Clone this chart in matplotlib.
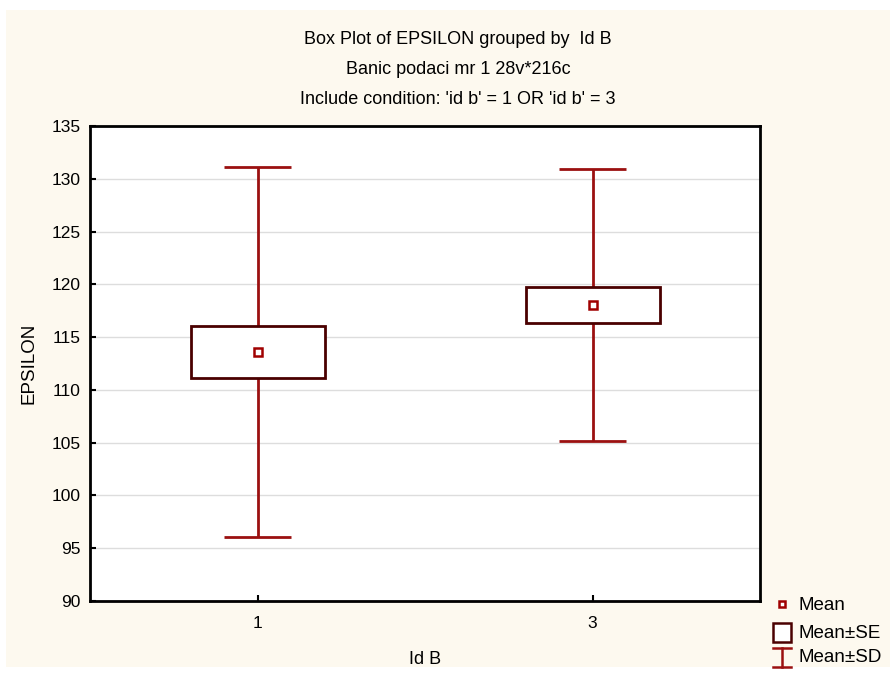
"""
Box plot of EPSILON grouped by Id B (mean, mean +- SE, mean +- SD).
Saves out.png
"""

import matplotlib.pyplot as plt
from matplotlib.patches import Rectangle
from matplotlib.lines import Line2D
import numpy as np

groups = ['1', '3']
means = [113.6, 118.05]
se = [2.45, 1.7]
sd = [17.5, 12.9]

yticks = [90, 95, 100, 105, 110, 115, 120, 125, 130, 135]
titles = ['Box Plot of EPSILON grouped by  Id B',
          'Banic podaci mr 1 28v*216c',
          "Include condition: 'id b' = 1 OR 'id b' = 3"]

BG = '#FDF9EF'
WHISK = '#9B1010'
BOXC = '#4A0000'
MEANC = '#A00000'

plt.rcParams['font.family'] = ['Liberation Sans', 'DejaVu Sans']

W, H = 890, 675
fig = plt.figure(figsize=(W / 100, H / 100), dpi=100)
fig.patch.set_facecolor('white')

def px(x, y):
    # pixel position (from top-left) -> figure fraction
    return x / W, 1 - y / H

# cream panel behind everything
x0, y0 = px(6, 667)
fig.add_artist(Rectangle((x0, y0), 1 - x0, (667 - 10) / H,
                         transform=fig.transFigure, facecolor=BG,
                         edgecolor='none', zorder=-10))

ax_l, ax_b = px(90, 601)
ax = fig.add_axes([ax_l, ax_b, (760 - 90) / W, (601 - 126) / H])
ax.set_facecolor('white')

x = np.arange(len(groups))
means_a, se_a, sd_a = np.array(means), np.array(se), np.array(sd)

# mean +- SD whiskers
ax.vlines(x, means_a - sd_a, means_a + sd_a, color=WHISK, lw=2, zorder=2)
ax.hlines(means_a - sd_a, x - 0.1, x + 0.1, color=WHISK, lw=2, zorder=2)
ax.hlines(means_a + sd_a, x - 0.1, x + 0.1, color=WHISK, lw=2, zorder=2)
# mean +- SE boxes
ax.bar(x, 2 * se_a, bottom=means_a - se_a, width=0.4, facecolor='white',
       edgecolor=BOXC, linewidth=2, zorder=3)
# means
ax.plot(x, means_a, ls='none', marker='s', ms=5.5, mfc='white', mec=MEANC,
        mew=1.8, zorder=4)

ax.set_xlim(-0.5, len(groups) - 0.5)
ax.set_ylim(90, 135)
ax.set_xticks(x)
ax.set_xticklabels(groups)
ax.set_yticks(yticks)
ax.yaxis.grid(True, color='#DDDDDD', lw=1)
ax.set_axisbelow(True)
ax.tick_params(direction='in', length=4, width=1.5, labelsize=12.5, pad=7)
ax.tick_params(axis='x', pad=11)
for s in ax.spines.values():
    s.set_linewidth(2)
ax.set_xlabel('Id B', fontsize=13, labelpad=14)
ax.set_ylabel('EPSILON', fontsize=13.5, labelpad=10)

for t, yy in zip(titles, [40, 70, 100]):
    fig.text(*px(458, yy), t, ha='center', va='center', fontsize=13)

# legend drawn by hand outside the plot area
fig.add_artist(Line2D([px(782, 0)[0]], [px(0, 604)[1]], marker='s', ms=4.5,
                      mfc='white', mec=MEANC, mew=1.8,
                      transform=fig.transFigure))
bx, by = px(773, 642)
fig.add_artist(Rectangle((bx, by), 18 / W, 19 / H, transform=fig.transFigure,
                         facecolor='white', edgecolor=BOXC, lw=1.8))
ix0, iy_top = px(773, 648)
ix1, iy_bot = px(791, 667)
ixm = (ix0 + ix1) / 2
for xs, ys in [([ix0, ix1], [iy_top, iy_top]), ([ix0, ix1], [iy_bot, iy_bot]),
               ([ixm, ixm], [iy_top, iy_bot])]:
    fig.add_artist(Line2D(xs, ys, color=WHISK, lw=1.8,
                          transform=fig.transFigure))
for lab, yy in [('Mean', 606), ('Mean±SE', 633), ('Mean±SD', 658)]:
    fig.text(*px(798, yy), lab, ha='left', va='center', fontsize=13.5)

fig.savefig('out.png', dpi=100, facecolor=fig.get_facecolor())
